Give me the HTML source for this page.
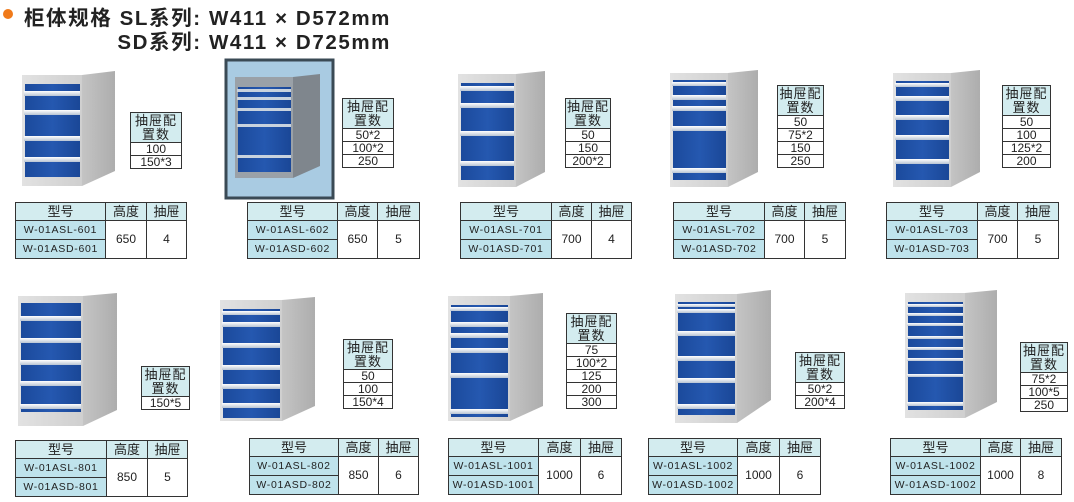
<!DOCTYPE html>
<html><head><meta charset="utf-8"><style>
body{margin:0;width:1074px;height:502px;background:#fff;position:relative;overflow:hidden;font-family:"Liberation Sans","Noto Sans CJK SC",sans-serif;color:#222}
.t{position:absolute;font-weight:bold;font-size:20.5px;letter-spacing:1.6px;white-space:nowrap;text-align:right;right:683px;color:#222}
table{position:absolute;border-collapse:collapse;table-layout:fixed}
td{border:1px solid #333;padding:0;text-align:center;font-size:12px;line-height:11px}
.cf td{height:12px}
.cf .h{background:#d3ecef;height:29px;line-height:14px;font-size:13px;letter-spacing:1px}
.sp td{height:18px;font-size:12px}
.sp .h td{background:#d3ecef;font-size:13px;height:17px}
.sp .m{background:#bfe3ec;font-size:10.5px;letter-spacing:0.7px}
</style></head><body>
<svg width="1074" height="502" style="position:absolute;left:0;top:0">
<defs>
<linearGradient id="fr" x1="0" x2="1"><stop offset="0" stop-color="#e2e2e2"/><stop offset="1" stop-color="#cfcfcf"/></linearGradient>
<linearGradient id="sd" x1="0" x2="1"><stop offset="0" stop-color="#c4c4c4"/><stop offset="1" stop-color="#adadad"/></linearGradient>
<linearGradient id="bl" x1="0" x2="1"><stop offset="0" stop-color="#1b4a9c"/><stop offset="0.5" stop-color="#2558b0"/><stop offset="1" stop-color="#1a4797"/></linearGradient>
<linearGradient id="hd" x1="0" y1="0" x2="0" y2="1"><stop offset="0" stop-color="#ffffff"/><stop offset="1" stop-color="#b8c4d4"/></linearGradient>
</defs>
<circle cx="8" cy="14" r="5" fill="#f07a1a"/>
<rect x="226" y="60" width="107" height="138" fill="#a9cbe2" stroke="#3a4a55" stroke-width="3"/>
<!-- C1 -->
<polygon points="82,75 115,71 115,171 82,186" fill="url(#sd)"/><rect x="22" y="75" width="60" height="111" fill="url(#fr)"/>
<rect x="25" y="84" width="55" height="93" fill="url(#bl)"/>
<g fill="url(#hd)"><rect x="24" y="91" width="56" height="5"/><rect x="24" y="110" width="56" height="5"/><rect x="24" y="136" width="56" height="5"/><rect x="24" y="157" width="56" height="5"/></g>
<!-- C2 -->
<polygon points="293,77 320,74 320,166 293,178" fill="#7f868d"/><rect x="235" y="77" width="58" height="101" fill="#9aa1a8"/>
<rect x="238" y="87" width="53" height="85" fill="url(#bl)"/>
<g fill="#c8d2de"><rect x="237" y="89" width="54" height="3"/><rect x="237" y="97" width="54" height="3"/><rect x="237" y="108" width="54" height="3"/><rect x="237" y="124" width="54" height="3"/><rect x="237" y="155" width="54" height="3"/></g>
<!-- C3 -->
<polygon points="516,74 545,71 545,172 516,187" fill="url(#sd)"/><rect x="458" y="74" width="58" height="113" fill="url(#fr)"/>
<rect x="461" y="83" width="53" height="97" fill="url(#bl)"/>
<g fill="url(#hd)"><rect x="460" y="86" width="54" height="5"/><rect x="460" y="103" width="54" height="5"/><rect x="460" y="131" width="54" height="5"/><rect x="460" y="161" width="54" height="5"/></g>
<!-- C4 -->
<polygon points="728,73 758,70 758,172 728,187" fill="url(#sd)"/><rect x="670" y="73" width="58" height="114" fill="url(#fr)"/>
<rect x="673" y="80" width="53" height="100" fill="url(#bl)"/>
<g fill="url(#hd)"><rect x="672" y="82" width="54" height="4"/><rect x="672" y="95" width="54" height="5"/><rect x="672" y="106" width="54" height="5"/><rect x="672" y="126" width="54" height="5"/><rect x="672" y="168" width="54" height="5"/></g>
<!-- C5 -->
<polygon points="951,73 980,70 980,172 951,187" fill="url(#sd)"/><rect x="893" y="73" width="58" height="114" fill="url(#fr)"/>
<rect x="896" y="81" width="53" height="99" fill="url(#bl)"/>
<g fill="url(#hd)"><rect x="895" y="83" width="54" height="4"/><rect x="895" y="96" width="54" height="5"/><rect x="895" y="115" width="54" height="5"/><rect x="895" y="135" width="54" height="5"/><rect x="895" y="159" width="54" height="5"/></g>
<!-- C6 -->
<polygon points="83,296 117,293 117,410 83,426" fill="url(#sd)"/><rect x="18" y="296" width="65" height="130" fill="url(#fr)"/>
<rect x="21" y="303" width="60" height="109" fill="url(#bl)"/>
<g fill="url(#hd)"><rect x="20" y="316" width="61" height="5"/><rect x="20" y="338" width="61" height="5"/><rect x="20" y="360" width="61" height="5"/><rect x="20" y="381" width="61" height="5"/><rect x="20" y="404" width="61" height="5"/></g>
<!-- C7 -->
<polygon points="282,300 315,297 315,406 282,421" fill="url(#sd)"/><rect x="220" y="300" width="62" height="121" fill="url(#fr)"/>
<rect x="223" y="309" width="57" height="109" fill="url(#bl)"/>
<g fill="url(#hd)"><rect x="222" y="311" width="58" height="4"/><rect x="222" y="322" width="58" height="5"/><rect x="222" y="343" width="58" height="5"/><rect x="222" y="365" width="58" height="5"/><rect x="222" y="384" width="58" height="5"/><rect x="222" y="403" width="58" height="5"/></g>
<!-- C8 -->
<polygon points="510,296 543,293 543,406 510,421" fill="url(#sd)"/><rect x="448" y="296" width="62" height="125" fill="url(#fr)"/>
<rect x="451" y="305" width="57" height="112" fill="url(#bl)"/>
<g fill="url(#hd)"><rect x="450" y="307" width="58" height="4"/><rect x="450" y="322" width="58" height="5"/><rect x="450" y="333" width="58" height="5"/><rect x="450" y="348" width="58" height="5"/><rect x="450" y="373" width="58" height="5"/><rect x="450" y="409" width="58" height="5"/></g>
<!-- C9 -->
<polygon points="737,294 771,290 771,400 737,423" fill="url(#sd)"/><rect x="675" y="294" width="62" height="129" fill="url(#fr)"/>
<rect x="678" y="302" width="57" height="113" fill="url(#bl)"/>
<g fill="url(#hd)"><rect x="677" y="304" width="58" height="3"/><rect x="677" y="309" width="58" height="4"/><rect x="677" y="331" width="58" height="5"/><rect x="677" y="356" width="58" height="5"/><rect x="677" y="378" width="58" height="5"/><rect x="677" y="404" width="58" height="5"/></g>
<!-- C10 -->
<polygon points="965,293 997,290 997,402 965,418" fill="url(#sd)"/><rect x="905" y="293" width="60" height="125" fill="url(#fr)"/>
<rect x="908" y="302" width="55" height="108" fill="url(#bl)"/>
<g fill="url(#hd)"><rect x="907" y="304" width="56" height="3"/><rect x="907" y="313" width="56" height="3"/><rect x="907" y="323" width="56" height="3"/><rect x="907" y="336" width="56" height="3"/><rect x="907" y="347" width="56" height="3"/><rect x="907" y="358" width="56" height="3"/><rect x="907" y="374" width="56" height="3"/><rect x="907" y="402" width="56" height="4"/></g>
</svg>
<div class="t" style="top:1px">柜体规格 SL系列: W411 × D572mm</div>
<div class="t" style="top:25px">SD系列: W411 × D725mm</div>

<table class="cf" style="left:130px;top:112px;width:52px"><tr><td class="h">抽屉配<br>置数</td></tr><tr><td>100</td></tr><tr><td>150*3</td></tr></table>
<table class="cf" style="left:342px;top:98px;width:52px"><tr><td class="h">抽屉配<br>置数</td></tr><tr><td>50*2</td></tr><tr><td>100*2</td></tr><tr><td>250</td></tr></table>
<table class="cf" style="left:565px;top:98px;width:46px"><tr><td class="h">抽屉配<br>置数</td></tr><tr><td>50</td></tr><tr><td>150</td></tr><tr><td>200*2</td></tr></table>
<table class="cf" style="left:777px;top:85px;width:47px"><tr><td class="h">抽屉配<br>置数</td></tr><tr><td>50</td></tr><tr><td>75*2</td></tr><tr><td>150</td></tr><tr><td>250</td></tr></table>
<table class="cf" style="left:1002px;top:85px;width:49px"><tr><td class="h">抽屉配<br>置数</td></tr><tr><td>50</td></tr><tr><td>100</td></tr><tr><td>125*2</td></tr><tr><td>200</td></tr></table>
<table class="cf" style="left:141px;top:366px;width:49px"><tr><td class="h">抽屉配<br>置数</td></tr><tr><td>150*5</td></tr></table>
<table class="cf" style="left:343px;top:339px;width:50px"><tr><td class="h">抽屉配<br>置数</td></tr><tr><td>50</td></tr><tr><td>100</td></tr><tr><td>150*4</td></tr></table>
<table class="cf" style="left:566px;top:313px;width:51px"><tr><td class="h">抽屉配<br>置数</td></tr><tr><td>75</td></tr><tr><td>100*2</td></tr><tr><td>125</td></tr><tr><td>200</td></tr><tr><td>300</td></tr></table>
<table class="cf" style="left:795px;top:352px;width:50px"><tr><td class="h">抽屉配<br>置数</td></tr><tr><td>50*2</td></tr><tr><td>200*4</td></tr></table>
<table class="cf" style="left:1020px;top:342px;width:48px"><tr><td class="h">抽屉配<br>置数</td></tr><tr><td>75*2</td></tr><tr><td>100*5</td></tr><tr><td>250</td></tr></table>

<table class="sp" style="left:15px;top:202px;width:171px"><col style="width:90px"><col style="width:41px"><col style="width:40px"><tr class="h"><td>型号</td><td>高度</td><td>抽屉</td></tr><tr><td class="m">W-01ASL-601</td><td rowspan="2">650</td><td rowspan="2">4</td></tr><tr><td class="m">W-01ASD-601</td></tr></table>
<table class="sp" style="left:247px;top:202px;width:172px"><col style="width:90px"><col style="width:40px"><col style="width:42px"><tr class="h"><td>型号</td><td>高度</td><td>抽屉</td></tr><tr><td class="m">W-01ASL-602</td><td rowspan="2">650</td><td rowspan="2">5</td></tr><tr><td class="m">W-01ASD-602</td></tr></table>
<table class="sp" style="left:460px;top:202px;width:171px"><col style="width:91px"><col style="width:40px"><col style="width:40px"><tr class="h"><td>型号</td><td>高度</td><td>抽屉</td></tr><tr><td class="m">W-01ASL-701</td><td rowspan="2">700</td><td rowspan="2">4</td></tr><tr><td class="m">W-01ASD-701</td></tr></table>
<table class="sp" style="left:673px;top:202px;width:172px"><col style="width:91px"><col style="width:40px"><col style="width:41px"><tr class="h"><td>型号</td><td>高度</td><td>抽屉</td></tr><tr><td class="m">W-01ASL-702</td><td rowspan="2">700</td><td rowspan="2">5</td></tr><tr><td class="m">W-01ASD-702</td></tr></table>
<table class="sp" style="left:886px;top:202px;width:172px"><col style="width:91px"><col style="width:40px"><col style="width:41px"><tr class="h"><td>型号</td><td>高度</td><td>抽屉</td></tr><tr><td class="m">W-01ASL-703</td><td rowspan="2">700</td><td rowspan="2">5</td></tr><tr><td class="m">W-01ASD-703</td></tr></table>
<table class="sp" style="left:15px;top:440px;width:172px"><col style="width:91px"><col style="width:41px"><col style="width:40px"><tr class="h"><td>型号</td><td>高度</td><td>抽屉</td></tr><tr><td class="m">W-01ASL-801</td><td rowspan="2">850</td><td rowspan="2">5</td></tr><tr><td class="m">W-01ASD-801</td></tr></table>
<table class="sp" style="left:249px;top:438px;width:169px"><col style="width:89px"><col style="width:40px"><col style="width:40px"><tr class="h"><td>型号</td><td>高度</td><td>抽屉</td></tr><tr><td class="m">W-01ASL-802</td><td rowspan="2">850</td><td rowspan="2">6</td></tr><tr><td class="m">W-01ASD-802</td></tr></table>
<table class="sp" style="left:448px;top:438px;width:173px"><col style="width:90px"><col style="width:42px"><col style="width:41px"><tr class="h"><td>型号</td><td>高度</td><td>抽屉</td></tr><tr><td class="m">W-01ASL-1001</td><td rowspan="2">1000</td><td rowspan="2">6</td></tr><tr><td class="m">W-01ASD-1001</td></tr></table>
<table class="sp" style="left:648px;top:438px;width:172px"><col style="width:89px"><col style="width:42px"><col style="width:41px"><tr class="h"><td>型号</td><td>高度</td><td>抽屉</td></tr><tr><td class="m">W-01ASL-1002</td><td rowspan="2">1000</td><td rowspan="2">6</td></tr><tr><td class="m">W-01ASD-1002</td></tr></table>
<table class="sp" style="left:890px;top:438px;width:171px"><col style="width:90px"><col style="width:40px"><col style="width:41px"><tr class="h"><td>型号</td><td>高度</td><td>抽屉</td></tr><tr><td class="m">W-01ASL-1002</td><td rowspan="2">1000</td><td rowspan="2">8</td></tr><tr><td class="m">W-01ASD-1002</td></tr></table>
</body></html>
